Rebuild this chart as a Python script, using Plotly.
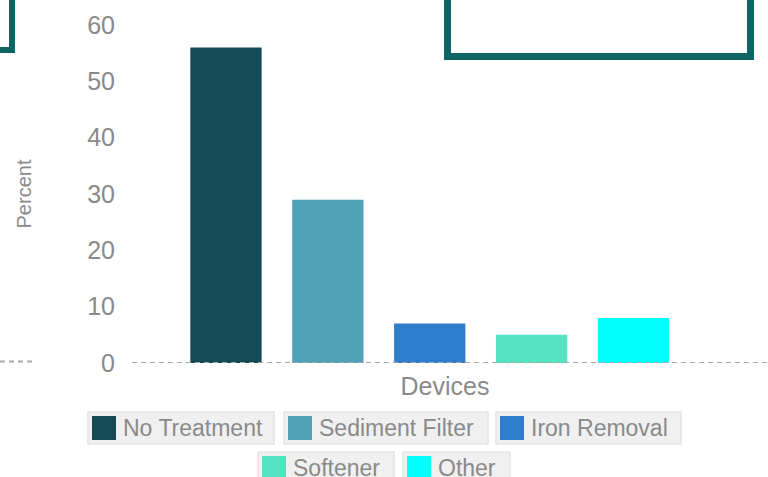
import plotly.graph_objects as go

# data
devices = ["No Treatment", "Sediment Filter", "Iron Removal", "Softener", "Other"]
percent = [56, 29, 7, 5, 8]
colors = ["#134a55", "#4fa3b8", "#2f7ecb", "#52e3c2", "#00ffff"]
y_ticks = [0, 10, 20, 30, 40, 50, 60]

W, H = 768, 477
L, R, T, B = 132, 10, 25, 114
FONT = "Arial, Liberation Sans, sans-serif"
GREY = "#8a8a8a"


def px(x):
    return (x - L) / (W - L - R)


def py(y):
    return (H - B - y) / (H - T - B)


fig = go.Figure()
for name, val, col in zip(devices, percent, colors):
    fig.add_trace(go.Bar(x=[name], y=[val], name=name, marker_color=col,
                         marker_line_width=0, width=0.7, showlegend=False))

shapes = [
    # dashed baseline
    dict(type="line", xref="paper", yref="y", x0=0, x1=px(W), y0=0, y1=0,
         line=dict(color="#a8a8a8", width=2, dash="5px,4px"), layer="above"),
    dict(type="line", xref="paper", yref="y", x0=px(0), x1=px(35), y0=0.25, y1=0.25,
         line=dict(color="#a8a8a8", width=2, dash="5px,4px")),
    # framing boxes of neighbouring panels
    dict(type="rect", xref="paper", yref="paper", x0=px(-100), x1=px(12),
         y0=py(50), y1=py(-100), line=dict(color="#0f6466", width=6)),
    dict(type="rect", xref="paper", yref="paper", x0=px(447.5), x1=px(750.5),
         y0=py(56.5), y1=py(-100), line=dict(color="#0f6466", width=7)),
]

# custom legend: one boxed item per device
legend_boxes = [(88, 274, 412), (284, 488, 412), (496, 681, 412),
                (258, 394, 452), (403, 510, 452)]
annotations = []
for (x0, x1, y0), name, col in zip(legend_boxes, devices, colors):
    shapes.append(dict(type="rect", xref="paper", yref="paper",
                       x0=px(x0), x1=px(x1), y0=py(y0 + 32), y1=py(y0),
                       fillcolor="#f0f0f0", line=dict(color="#e4e4e4", width=1.5)))
    shapes.append(dict(type="rect", xref="paper", yref="paper",
                       x0=px(x0 + 4), x1=px(x0 + 28), y0=py(y0 + 28), y1=py(y0 + 4),
                       fillcolor=col, line=dict(color=col, width=0)))
    annotations.append(dict(xref="paper", yref="paper", x=px(x0 + 33), y=py(y0 + 16),
                            xanchor="left", yanchor="middle", showarrow=False,
                            text=name, font=dict(family=FONT, size=23, color=GREY)))

fig.update_layout(
    width=W, height=H,
    margin=dict(l=L, r=R, t=T, b=B, autoexpand=False),
    paper_bgcolor="white", plot_bgcolor="white",
    barmode="overlay",
    shapes=shapes, annotations=annotations,
    xaxis=dict(range=[-0.9225, 5.222], showticklabels=False, showgrid=False,
               zeroline=False, showline=False, ticks="",
               title=dict(text="Devices", standoff=14,
                          font=dict(family=FONT, size=25, color=GREY))),
    yaxis=dict(range=[0, 60], tickvals=y_ticks, showgrid=False, zeroline=False,
               showline=False, ticks="", ticklabelstandoff=16,
               tickfont=dict(family=FONT, size=25, color=GREY),
               title=dict(text="Percent", standoff=50,
                          font=dict(family=FONT, size=20, color=GREY))),
)

fig.write_html("out.html", config={"displayModeBar": False},
               post_script="document.body.style.margin = '0';")
